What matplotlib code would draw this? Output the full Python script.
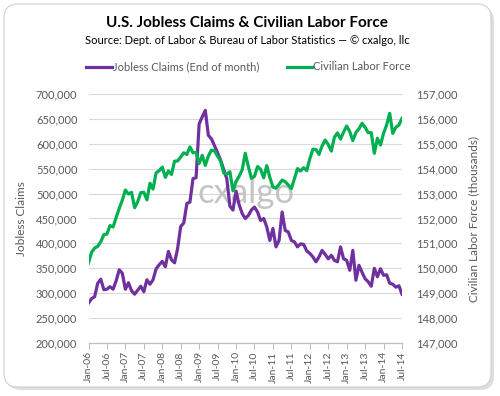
import matplotlib.pyplot as plt
import matplotlib.ticker as mticker
from matplotlib.patches import FancyBboxPatch
from matplotlib.lines import Line2D
import pandas as pd

# monthly data, Jan-2006 .. Jul-2014
jobless_claims = [
    280000, 289000, 293000, 320000, 328000, 307000, 308000, 313000, 308000, 325000, 347000, 340000,
    308000, 321000, 305000, 298000, 306000, 314000, 303000, 327000, 318000, 327000, 349000, 357000,
    364000, 353000, 384000, 367000, 361000, 390000, 434000, 441000, 480000, 483000, 530000, 532000,
    640000, 654000, 667000, 617000, 610000, 596000, 582000, 567000, 548000, 530000, 475000, 467000,
    505000, 478000, 460000, 450000, 456000, 467000, 473000, 463000, 446000, 450000, 433000, 406000,
    430000, 393000, 406000, 463000, 426000, 423000, 406000, 403000, 393000, 399000, 398000, 385000,
    380000, 373000, 363000, 373000, 386000, 378000, 369000, 376000, 366000, 363000, 393000, 369000,
    366000, 346000, 386000, 326000, 356000, 342000, 329000, 323000, 314000, 350000, 333000, 349000,
    336000, 337000, 320000, 318000, 312000, 315000, 298000,
]
labor_force = [
    150214, 150641, 150813, 150881, 151069, 151354, 151377, 151716, 151662, 152041, 152406, 152732,
    153144, 152983, 153051, 152435, 152670, 153041, 153054, 152749, 153414, 153183, 153835, 153918,
    154063, 153653, 153908, 153769, 154303, 154313, 154469, 154641, 154570, 154876, 154639, 154655,
    154210, 154538, 154133, 154509, 154747, 154716, 154502, 154307, 153827, 153784, 153878, 153111,
    153484, 153694, 153954, 154622, 154091, 153616, 153691, 154086, 153975, 153635, 154125, 153650,
    153263, 153214, 153376, 153543, 153479, 153346, 153197, 153601, 154004, 153908, 154042, 153920,
    154395, 154781, 154771, 154573, 154913, 155148, 154971, 154707, 155259, 155438, 155188, 155473,
    155715, 155487, 155126, 155450, 155600, 155822, 155661, 155447, 155447, 154617, 155220, 154952,
    155420, 155755, 156224, 155420, 155661, 155755, 156023,
]
months = pd.date_range('2006-01-01', periods=len(jobless_claims), freq='MS')
x = list(range(len(months)))
tick_pos = x[::6]
tick_labels = [d.strftime('%b-%y') for d in months[::6]]

purple = '#7030A0'
green = '#00B050'
grey_text = '#595959'
grid_col = '#d9d9d9'

plt.rcParams['font.family'] = ['Lato', 'DejaVu Sans']

fig = plt.figure(figsize=(5, 3.96), dpi=100)
fig.patch.set_facecolor('white')

# chart border with shadow
shadow = FancyBboxPatch((0.07, 0.06), 4.87, 3.83, boxstyle='round,pad=0,rounding_size=0.14',
                        transform=fig.dpi_scale_trans, facecolor='#c8c8c8', edgecolor='none',
                        alpha=0.6, zorder=-3)
box = FancyBboxPatch((0.04, 0.09), 4.87, 3.83, boxstyle='round,pad=0,rounding_size=0.14',
                     transform=fig.dpi_scale_trans, facecolor='white', edgecolor='#d0d0d0',
                     lw=0.8, zorder=-2)
fig.patches.extend([shadow, box])

ax = fig.add_axes([88.5 / 500, 1 - 343 / 396, (402 - 88.5) / 500, (343 - 94) / 396])
ax.set_facecolor('none')
ax2 = ax.twinx()

ax.plot(x, jobless_claims, color=purple, lw=2.3, zorder=3, solid_joinstyle='round')
ax2.plot(x, labor_force, color=green, lw=2.3, zorder=3, solid_joinstyle='round')

ax.set_xlim(0, len(x) - 1)
ax.set_ylim(200000, 700000)
ax2.set_ylim(147000, 157000)
ax.yaxis.set_major_locator(mticker.MultipleLocator(50000))
ax2.yaxis.set_major_locator(mticker.MultipleLocator(1000))
ax.yaxis.set_major_formatter(mticker.StrMethodFormatter('{x:,.0f}'))
ax2.yaxis.set_major_formatter(mticker.StrMethodFormatter('{x:,.0f}'))
ax.grid(axis='y', color=grid_col, lw=0.8)
ax.set_axisbelow(True)

ax.set_xticks(tick_pos)
ax.set_xticklabels(tick_labels, rotation=90)

for a in (ax, ax2):
    for s in ('top', 'left', 'right'):
        a.spines[s].set_visible(False)
    a.spines['bottom'].set_color('#bfbfbf')
    a.tick_params(axis='y', length=0, labelsize=8, labelcolor=grey_text, pad=8)
ax.tick_params(axis='x', length=4, color='#bfbfbf', labelsize=7.5, labelcolor=grey_text, pad=2)
ax2.tick_params(axis='y', pad=10)

ax.set_ylabel('Jobless Claims', fontsize=8.5, color=grey_text)
ax2.set_ylabel('Civilian Labor Force (thousands)', fontsize=8.5, color=grey_text)
ax.yaxis.set_label_coords(-0.196, 0.5)
ax2.yaxis.set_label_coords(1.211, 0.5)

ax.text(0.504, 0.561, 'cxalgo', transform=ax.transAxes, fontsize=25,
        color='#c4c4c4', ha='center', va='baseline', zorder=1)

fig.text(0.494, 1 - 23 / 396, 'U.S. Jobless Claims & Civilian Labor Force', ha='center', va='center',
         fontsize=11, fontweight='bold', color='black')
fig.text(0.494, 1 - 40 / 396, 'Source: Dept. of Labor & Bureau of Labor Statistics \u2014 \u00a9 cxalgo, llc',
         ha='center', va='center', fontsize=8, color='black')

handles = [Line2D([], [], color=purple, lw=2.3), Line2D([], [], color=green, lw=2.3)]
leg = fig.legend(handles, ['Jobless Claims (End of month)', 'Civilian Labor Force'], loc='center',
                 bbox_to_anchor=(0.497, 1 - 67 / 396), ncol=2, frameon=False, fontsize=8,
                 handlelength=2.3, handletextpad=0.1, columnspacing=2.5)
for t in leg.get_texts():
    t.set_color(grey_text)

fig.savefig('out.png', dpi=100, facecolor='white')
